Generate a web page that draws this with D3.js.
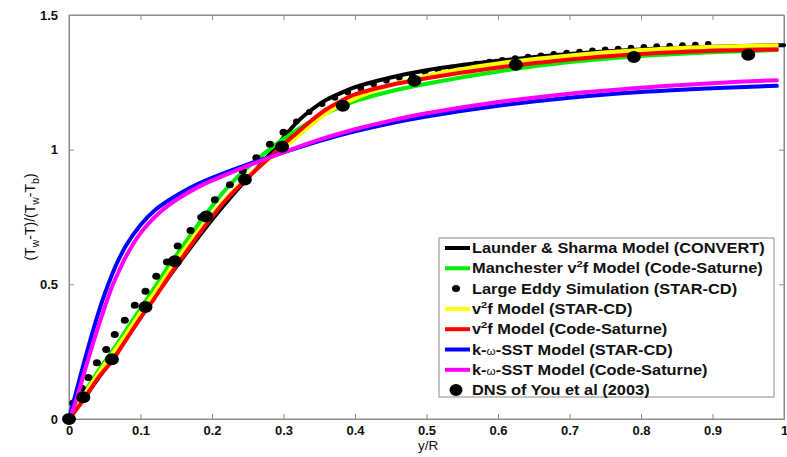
<!DOCTYPE html>
<html><head><meta charset="utf-8">
<script src="https://cdn.jsdelivr.net/npm/d3@7"></script>
<style>body{margin:0;background:#fff}svg{display:block}</style>
</head><body>
<svg id="c" width="787" height="457"></svg>
<script>
const xTicks = [0,0.1,0.2,0.3,0.4,0.5,0.6,0.7,0.8,0.9,1];
const xTickLabels = ["0","0.1","0.2","0.3","0.4","0.5","0.6","0.7","0.8","0.9","1"];
const yTicks = [0,0.5,1,1.5];
const yTickLabels = ["0","0.5","1","1.5"];

const launder = [[0,0],[0.05,0.185],[0.10,0.38],[0.15,0.565],[0.20,0.74],[0.25,0.895],[0.28,0.98],[0.30,1.045],[0.32,1.105],[0.34,1.15],[0.36,1.185],[0.38,1.21],[0.40,1.232],[0.45,1.268],[0.50,1.295],[0.60,1.33],[0.70,1.355],[0.80,1.372],[0.90,1.382],[1.00,1.388]];
const manchester = [[0,0],[0.02,0.09],[0.04,0.175],[0.06,0.25],[0.08,0.33],[0.10,0.41],[0.12,0.49],[0.14,0.57],[0.16,0.645],[0.18,0.72],[0.20,0.79],[0.22,0.855],[0.25,0.935],[0.28,1.0],[0.30,1.04],[0.32,1.075],[0.34,1.107],[0.36,1.135],[0.38,1.16],[0.40,1.18],[0.45,1.217],[0.50,1.245],[0.60,1.29],[0.70,1.325],[0.80,1.348],[0.90,1.362],[0.99,1.37]];
const les = [[0.006,0.059],[0.018,0.114],[0.027,0.154],[0.039,0.209],[0.052,0.258],[0.064,0.314],[0.078,0.367],[0.092,0.422],[0.107,0.474],[0.122,0.530],[0.137,0.583],[0.152,0.642],[0.170,0.700],[0.185,0.749],[0.204,0.814],[0.225,0.870],[0.243,0.922],[0.262,0.97],[0.281,1.02],[0.300,1.065],[0.318,1.105],[0.336,1.14],[0.354,1.17],[0.372,1.193],[0.390,1.212],[0.408,1.228],[0.426,1.243],[0.444,1.256],[0.462,1.267],[0.480,1.277],[0.498,1.287],[0.516,1.296],[0.534,1.304],[0.552,1.312],[0.570,1.319],[0.588,1.326],[0.606,1.333],[0.624,1.339],[0.642,1.345],[0.660,1.350],[0.678,1.355],[0.696,1.360],[0.714,1.364],[0.732,1.368],[0.750,1.372],[0.768,1.375],[0.786,1.378],[0.804,1.381],[0.822,1.384],[0.840,1.386],[0.858,1.388],[0.876,1.390],[0.894,1.392]];
const v2fStar = [[0,0],[0.02,0.085],[0.04,0.165],[0.06,0.24],[0.08,0.315],[0.10,0.395],[0.12,0.47],[0.14,0.55],[0.16,0.625],[0.18,0.695],[0.20,0.76],[0.22,0.82],[0.25,0.90],[0.28,0.965],[0.30,1.005],[0.32,1.05],[0.34,1.095],[0.36,1.135],[0.38,1.165],[0.40,1.19],[0.45,1.24],[0.50,1.275],[0.60,1.32],[0.70,1.35],[0.80,1.37],[0.90,1.382],[0.99,1.388]];
const v2fSat = [[0,0],[0.02,0.07],[0.04,0.15],[0.06,0.215],[0.08,0.295],[0.10,0.375],[0.12,0.45],[0.14,0.53],[0.16,0.605],[0.18,0.68],[0.20,0.75],[0.22,0.815],[0.25,0.895],[0.28,0.97],[0.30,1.02],[0.32,1.065],[0.34,1.11],[0.36,1.15],[0.38,1.18],[0.40,1.205],[0.45,1.24],[0.50,1.265],[0.60,1.305],[0.70,1.335],[0.80,1.355],[0.90,1.367],[0.99,1.372]];
const sstStar = [[0,0],[0.005,0.05],[0.01,0.10],[0.02,0.20],[0.03,0.295],[0.04,0.385],[0.05,0.465],[0.06,0.535],[0.07,0.595],[0.08,0.645],[0.10,0.72],[0.12,0.775],[0.14,0.813],[0.16,0.845],[0.18,0.872],[0.20,0.895],[0.25,0.945],[0.30,0.99],[0.35,1.032],[0.40,1.068],[0.45,1.098],[0.50,1.123],[0.60,1.163],[0.70,1.193],[0.80,1.214],[0.90,1.228],[0.99,1.237]];
const sstSat = [[0,0],[0.005,0.03],[0.01,0.07],[0.02,0.16],[0.03,0.25],[0.04,0.335],[0.05,0.415],[0.06,0.49],[0.07,0.55],[0.08,0.605],[0.10,0.69],[0.12,0.75],[0.14,0.795],[0.16,0.83],[0.18,0.86],[0.20,0.885],[0.25,0.94],[0.30,0.99],[0.35,1.037],[0.40,1.076],[0.45,1.108],[0.50,1.135],[0.60,1.177],[0.70,1.208],[0.80,1.23],[0.90,1.247],[0.99,1.258]];
const dns = [[0,0],[0.020,0.081],[0.060,0.222],[0.107,0.416],[0.148,0.586],[0.192,0.752],[0.246,0.889],[0.298,1.011],[0.383,1.163],[0.483,1.256],[0.625,1.315],[0.790,1.344],[0.950,1.352]];

const legendNames = [
  ["Launder & Sharma Model (CONVERT)"],
  ["Manchester v","2","f Model (Code-Saturne)"],
  ["Large Eddy Simulation (STAR-CD)"],
  ["v","2","f Model (STAR-CD)"],
  ["v","2","f Model (Code-Saturne)"],
  ["k-","ω","-SST Model (STAR-CD)"],
  ["k-","ω","-SST Model (Code-Saturne)"],
  ["DNS of You et al (2003)"]
];

const svg = d3.select("#c");
const x = d3.scaleLinear().domain([0,1]).range([69,784]);
const y = d3.scaleLinear().domain([0,1.5]).range([419,15]);
const font = "'Liberation Sans', Arial, Helvetica, sans-serif";

svg.append("rect").attr("x",69).attr("y",15).attr("width",715).attr("height",404)
  .attr("fill","none").attr("stroke","#8a8a8a").attr("stroke-width",1);

const axB = svg.append("g").attr("transform","translate(0,419)")
  .call(d3.axisBottom(x).tickValues(xTicks).tickSize(-5).tickPadding(7).tickFormat((d,i)=>xTickLabels[i]));
const axT = svg.append("g").attr("transform","translate(0,15)")
  .call(d3.axisTop(x).tickValues(xTicks).tickSize(-5).tickFormat(""));
const axL = svg.append("g").attr("transform","translate(69,0)")
  .call(d3.axisLeft(y).tickValues(yTicks).tickSize(-5).tickPadding(11).tickFormat((d,i)=>yTickLabels[i]));
const axR = svg.append("g").attr("transform","translate(784,0)")
  .call(d3.axisRight(y).tickValues(yTicks).tickSize(-5).tickFormat(""));
[axB,axT,axL,axR].forEach(g=>{
  g.select(".domain").attr("stroke","#8a8a8a");
  g.selectAll(".tick line").attr("stroke","#8a8a8a");
  g.selectAll("text").attr("font-family",font).attr("font-size",13).attr("font-weight","bold").attr("fill","#111");
});

svg.append("text").attr("x",428).attr("y",450).attr("text-anchor","middle")
  .attr("font-family",font).attr("font-size",13.5).attr("fill","#111").text("y/R");
const yl = svg.append("text").attr("transform","translate(35,217) rotate(-90)").attr("text-anchor","middle")
  .attr("font-family",font).attr("font-size",14).attr("fill","#111");
yl.append("tspan").text("(T");
yl.append("tspan").attr("font-size",10.5).attr("dy",4).text("w");
yl.append("tspan").attr("dy",-4).text("-T)/(T");
yl.append("tspan").attr("font-size",10.5).attr("dy",4).text("w");
yl.append("tspan").attr("dy",-4).text("-T");
yl.append("tspan").attr("font-size",10.5).attr("dy",4).text("b");
yl.append("tspan").attr("dy",-4).text(")");

const line = d3.line().x(d=>x(d[0])).y(d=>y(d[1])).curve(d3.curveCatmullRom.alpha(0.5));
const plot = svg.append("g");
function drawLine(data,color){
  plot.append("path").datum(data).attr("d",line).attr("fill","none")
    .attr("stroke",color).attr("stroke-width",4).attr("stroke-linejoin","round").attr("stroke-linecap","round");
}
drawLine(launder,"#000");
drawLine(manchester,"#00ee00");
plot.selectAll(".les").data(les).join("ellipse").attr("class","les")
  .attr("cx",d=>x(d[0])).attr("cy",d=>y(d[1])).attr("rx",d=>d[0]>0.3?3.3:4).attr("ry",d=>d[0]>0.3?3:3.5).attr("fill","#000");
drawLine(v2fStar,"#ffff00");
drawLine(v2fSat,"#ff0000");
drawLine(sstStar,"#0000ff");
drawLine(sstSat,"#ff00ff");
plot.selectAll(".dns").data(dns).join("ellipse").attr("class","dns")
  .attr("cx",d=>x(d[0])).attr("cy",d=>y(d[1])).attr("rx",7).attr("ry",6).attr("fill","#000");

const legendColors = ["#000","#00ee00",null,"#ffff00","#ff0000","#0000ff","#ff00ff",null];
const lg = svg.append("g");
lg.append("rect").attr("x",439).attr("y",238).attr("width",335).attr("height",159)
  .attr("fill","#fff").attr("stroke","#8a8a8a").attr("stroke-width",1);
legendNames.forEach((parts,i)=>{
  const cy = 248 + i*20.3;
  if (legendColors[i]) {
    lg.append("line").attr("x1",445).attr("x2",470).attr("y1",cy).attr("y2",cy)
      .attr("stroke",legendColors[i]).attr("stroke-width",4);
  } else if (i===2) {
    lg.append("ellipse").attr("cx",456).attr("cy",cy).attr("rx",4).attr("ry",3.5).attr("fill","#000");
  } else {
    lg.append("ellipse").attr("cx",456).attr("cy",cy).attr("rx",6.5).attr("ry",6).attr("fill","#000");
  }
  const t = lg.append("text").attr("transform",`translate(472,${cy+5}) scale(1.17,1)`).attr("font-family",font)
    .attr("font-size",14).attr("font-weight","bold").attr("fill","#111");
  if (parts.length===1) t.text(parts[0]);
  else if (parts[1]==="2") {
    t.append("tspan").text(parts[0]);
    t.append("tspan").attr("font-size",9.5).attr("dy",-6).text(parts[1]);
    t.append("tspan").attr("dy",6).text(parts[2]);
  } else {
    t.append("tspan").text(parts[0]);
    t.append("tspan").attr("font-size",10).attr("font-weight","normal").text(parts[1]);
    t.append("tspan").text(parts[2]);
  }
});
</script>
</body></html>
